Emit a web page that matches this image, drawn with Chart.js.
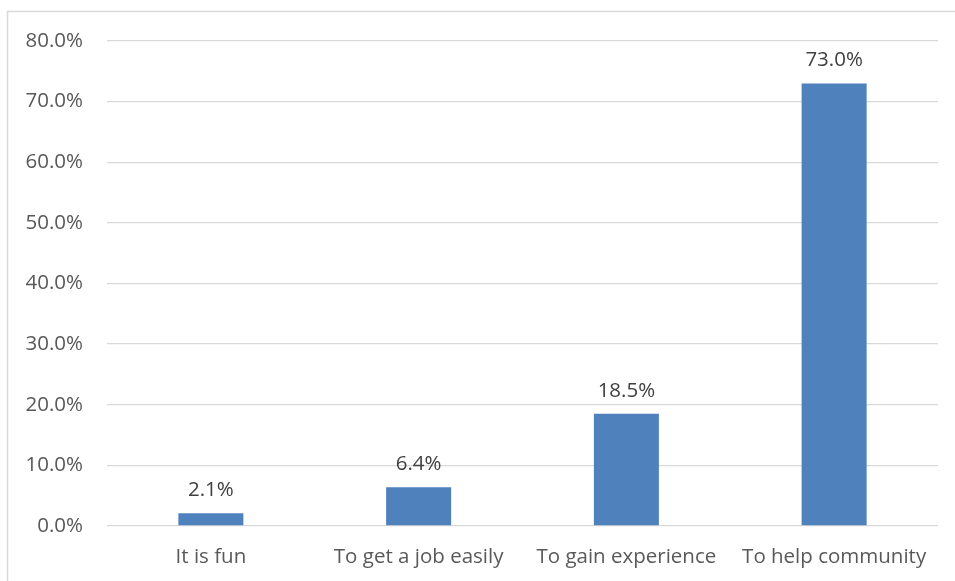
<!DOCTYPE html>
<html>
<head>
<meta charset="utf-8">
<script src="https://cdn.jsdelivr.net/npm/chart.js@4"></script>
<style>
  html, body { margin: 0; padding: 0; background: #fff; }
  #wrap { width: 955px; height: 581px; position: relative; }
</style>
</head>
<body>
<div id="wrap"><canvas id="chart"></canvas></div>
<script>
// reasons for volunteering, share of respondents (%)
const categories = ['It is fun', 'To get a job easily', 'To gain experience', 'To help community'];
const shares = [2.1, 6.4, 18.5, 73.0];
const yTicks = [0, 10, 20, 30, 40, 50, 60, 70, 80];

const FONT = '"Open Sans", "Noto Sans", sans-serif';

// outer frame, only top/left edges fall inside the canvas
const framePlugin = {
    id: 'frame',
    beforeDraw(chart) {
        const ctx = chart.ctx;
        ctx.save();
        ctx.fillStyle = '#fff';
        ctx.fillRect(0, 0, chart.width, chart.height);
        ctx.strokeStyle = '#d9d9d9';
        ctx.lineWidth = 1.5;
        ctx.strokeRect(7.5, 11.5, chart.width + 20, chart.height + 20);
        ctx.restore();
    }
};

// value labels above each bar
const valueLabels = {
    id: 'valueLabels',
    afterDatasetsDraw(chart) {
        const ctx = chart.ctx;
        const meta = chart.getDatasetMeta(0);
        ctx.save();
        ctx.font = '20.5px ' + FONT;
        ctx.fillStyle = '#404040';
        ctx.textAlign = 'center';
        ctx.textBaseline = 'alphabetic';
        meta.data.forEach(function (bar, i) {
            ctx.fillText(shares[i].toFixed(1) + '%', bar.x, bar.y - 17);
        });
        ctx.restore();
    }
};

new Chart(document.getElementById('chart'), {
    type: 'bar',
    data: {
        labels: categories,
        datasets: [{
            data: shares,
            backgroundColor: '#4f81bd',
            borderWidth: 0,
            barPercentage: 0.313,
            categoryPercentage: 1
        }]
    },
    options: {
        responsive: true,
        maintainAspectRatio: false,
        animation: false,
        layout: { padding: { top: 41, right: 17, left: 0, bottom: 0 } },
        plugins: { legend: { display: false }, tooltip: { enabled: false } },
        scales: {
            x: {
                grid: { display: false, drawTicks: false },
                border: { display: false },
                ticks: { color: '#595959', font: { family: FONT, size: 20.5 }, padding: 19, maxRotation: 0 },
                afterFit(scale) { scale.height = 55; }
            },
            y: {
                min: 0,
                max: 80,
                afterBuildTicks(scale) { scale.ticks = yTicks.map(v => ({ value: v })); },
                grid: { color: '#d9d9d9', lineWidth: 1.3, drawTicks: false },
                border: { display: false },
                ticks: {
                    color: '#595959',
                    font: { family: FONT, size: 20.5 },
                    padding: 24,
                    callback: v => v.toFixed(1) + '%'
                },
                afterFit(scale) { scale.width = 107; }
            }
        }
    },
    plugins: [framePlugin, valueLabels]
});
</script>
</body>
</html>
